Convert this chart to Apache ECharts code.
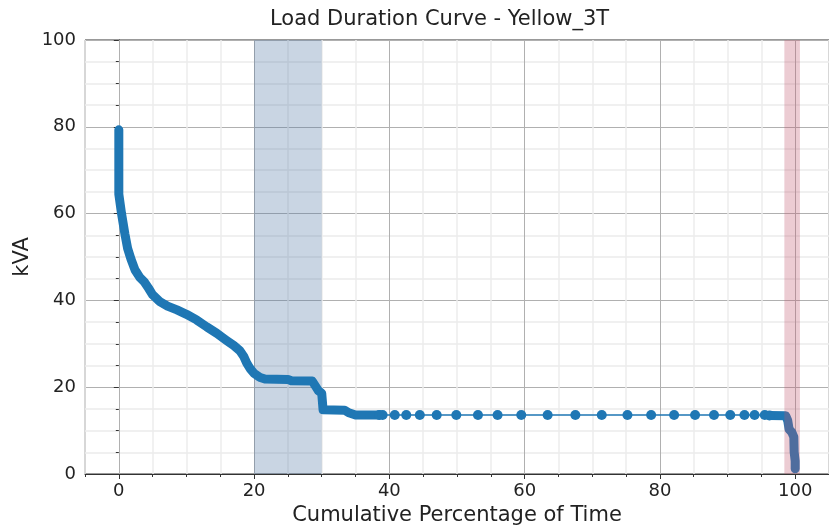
<!DOCTYPE html>
<html>
<head>
<meta charset="utf-8">
<script src="https://cdn.jsdelivr.net/npm/echarts@6/dist/echarts.min.js"></script>
<style>
  html, body { margin: 0; padding: 0; background: #fff; }
  #chart { width: 829px; height: 528px; }
</style>
</head>
<body>
<div id="chart"></div>
<script>
// [percent of time, kVA]
const headPoints = [
  [0, 79.3], [0, 64.5], [0.4, 60], [0.9, 55.3], [1.3, 52], [1.8, 49.5],
  [2.4, 47], [3.1, 45.3], [3.8, 44.2], [4.4, 42.8], [5.0, 41.3], [6.0, 39.8],
  [7.2, 38.7], [8.6, 37.8], [10.0, 36.8], [11.5, 35.5], [13.0, 33.9], [14.5, 32.4],
  [15.9, 30.8], [17.0, 29.6], [17.9, 28.4], [18.5, 27], [18.9, 25.6], [19.4, 24.3],
  [20.0, 23.2], [20.8, 22.3], [21.6, 21.9], [25.0, 21.8], [25.5, 21.5], [28.6, 21.4],
  [29.1, 20.2], [29.5, 19.2], [30.0, 18.6], [30.2, 14.8], [33.4, 14.7], [34.0, 14.1],
  [35.0, 13.6], [38.5, 13.6]
];
const flatPoints = [
  [38.5, 13.6], [39.0, 13.6], [40.8, 13.6], [42.5, 13.6], [44.5, 13.6], [47.0, 13.6],
  [49.9, 13.6], [53.1, 13.6], [56.0, 13.6], [59.5, 13.6], [63.4, 13.6], [67.5, 13.6],
  [71.4, 13.6], [75.2, 13.6], [78.7, 13.6], [82.1, 13.6], [85.2, 13.6], [88.0, 13.6],
  [90.4, 13.6], [92.5, 13.6], [94.0, 13.6], [95.5, 13.6], [96.2, 13.5]
];
const tailPoints = [
  [96.2, 13.5], [98.6, 13.4], [98.9, 12.3], [99.1, 10.3], [99.5, 9.6],
  [99.8, 8.5], [99.85, 5], [100, 3], [100, 1.2]
];
const majorTicks = [0, 20, 40, 60, 80, 100];
const peakBand = [20, 30];
const endBand = [98.4, 100.7];

const font = "DejaVu Sans";
const lineBlue = "#1f77b4";
const axisColor = "#333";
const textColor = "#222";
const minorGrid = "#ececec";

const chart = echarts.init(document.getElementById("chart"));

chart.setOption({
  animation: false,
  textStyle: { fontFamily: font },
  title: {
    text: "Load Duration Curve - Yellow_3T",
    left: 270,
    top: 9,
    padding: 0,
    textStyle: { fontFamily: font, fontSize: 21, fontWeight: "normal", color: textColor },
  },
  grid: {
    left: 85,
    right: 0,
    top: 40,
    bottom: 54,
    outerBoundsMode: "none",
    containLabel: false,
    show: true,
    borderColor: axisColor,
    borderWidth: 1,
  },
  xAxis: [
    {
      type: "value",
      min: -5,
      max: 105,
      name: "Cumulative Percentage of Time",
      nameLocation: "middle",
      nameGap: 30,
      nameTextStyle: { fontFamily: font, fontSize: 21, color: textColor },
      axisLine: { show: true, onZero: false, lineStyle: { color: axisColor, width: 1 } },
      axisTick: { show: true, customValues: majorTicks, length: 5, lineStyle: { color: axisColor } },
      axisLabel: { customValues: majorTicks, fontFamily: font, fontSize: 18, color: textColor, margin: 8 },
      splitLine: { show: true, lineStyle: { color: "#b0b0b0", width: 1 } },
      z: 1,
    },
    {
      // minor grid every 5 %
      type: "value",
      min: -5,
      max: 105,
      interval: 5,
      position: "bottom",
      axisLine: { show: false },
      axisLabel: { show: false },
      axisTick: { show: true, length: 3, lineStyle: { color: axisColor } },
      splitLine: {
        show: true,
        lineStyle: { color: [minorGrid, "transparent", minorGrid, minorGrid], width: 1.5 },
      },
      z: 0,
    },
  ],
  yAxis: {
    type: "value",
    min: 0,
    max: 100,
    interval: 20,
    name: "kVA",
    nameLocation: "middle",
    nameGap: 52,
    nameMoveOverlap: false,
    nameTextStyle: { fontFamily: font, fontSize: 21, color: textColor },
    axisLine: { show: true, lineStyle: { color: axisColor, width: 1 } },
    axisTick: { show: true, length: 5, lineStyle: { color: axisColor } },
    minorTick: { show: true, splitNumber: 4, length: 3, lineStyle: { color: axisColor } },
    axisLabel: { fontFamily: font, fontSize: 18, color: textColor, margin: 9 },
    splitLine: { show: true, lineStyle: { color: "#b0b0b0", width: 1 } },
    minorSplitLine: { show: true, lineStyle: { color: minorGrid, width: 1.5 } },
  },
  series: [
    {
      type: "line",
      data: headPoints,
      showSymbol: false,
      lineStyle: { width: 9, color: lineBlue, cap: "round", join: "round" },
      markArea: {
        silent: true,
        itemStyle: { color: "rgba(75,115,162,0.3)" },
        data: [[{ xAxis: peakBand[0] }, { xAxis: peakBand[1] }]],
      },
    },
    {
      type: "line",
      data: flatPoints,
      symbol: "circle",
      symbolSize: 10,
      itemStyle: { color: lineBlue },
      lineStyle: { width: 1.5, color: lineBlue },
    },
    {
      type: "line",
      data: tailPoints,
      showSymbol: false,
      lineStyle: { width: 9, color: lineBlue, cap: "round", join: "round" },
      markArea: {
        silent: true,
        z: 5,
        itemStyle: { color: "rgba(192,85,108,0.3)" },
        data: [[{ xAxis: endBand[0] }, { xAxis: endBand[1] }]],
      },
    },
  ],
});

window.addEventListener("resize", () => chart.resize());
</script>
</body>
</html>
